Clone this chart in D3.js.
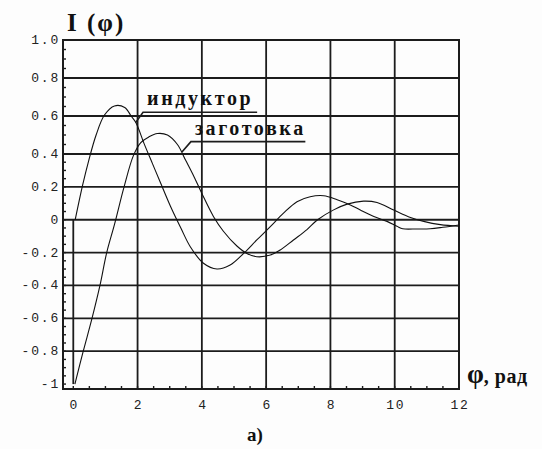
<!DOCTYPE html>
<html>
<head>
<meta charset="utf-8">
<script src="https://cdn.jsdelivr.net/npm/d3@7"></script>
<style>
  body { margin: 0; background: #fdfdfd; }
  svg { display: block; }
</style>
</head>
<body>
<div id="chart"></div>
<script>
// tick values and labels
const phiTicks = [0, 2, 4, 6, 8, 10, 12];
const iTicks = [1.0, 0.8, 0.6, 0.4, 0.2, 0, -0.2, -0.4, -0.6, -0.8, -1];
const iTickLabels = ["1.0", "0.8", "0.6", "0.4", "0.2", "0", "-0.2", "-0.4", "-0.6", "-0.8", "-1"];
const phiGrid = [2, 4, 6, 8, 10];
const iGrid = [0.8, 0.6, 0.4, 0.2, 0, -0.2, -0.4, -0.6, -0.8];

// curves: [phi, I]
const inductor = [
  [0.06, 0.0], [0.29, 0.21], [0.48, 0.36], [0.71, 0.50], [0.97, 0.605],
  [1.28, 0.653], [1.6, 0.645], [1.8, 0.60], [1.95, 0.565], [2.2, 0.456],
  [2.46, 0.343], [2.72, 0.222], [3.03, 0.079], [3.35, -0.052], [3.64, -0.164],
  [4.05, -0.265], [4.47, -0.30], [4.88, -0.276], [5.3, -0.205], [5.71, -0.123],
  [6.13, -0.042], [6.54, 0.04], [6.96, 0.11], [7.37, 0.14], [7.79, 0.146],
  [8.21, 0.122], [8.62, 0.09], [8.93, 0.059], [9.35, 0.02], [9.76, -0.01],
  [10.07, -0.04], [10.25, -0.055], [10.7, -0.056], [11.1, -0.055], [11.5, -0.046],
  [12.0, -0.032]
];
const workpiece = [
  [0.05, -1.0], [0.31, -0.80], [0.57, -0.61], [0.83, -0.40], [1.04, -0.20],
  [1.28, -0.03], [1.58, 0.20], [1.87, 0.39], [2.1, 0.46], [2.35, 0.49],
  [2.62, 0.508], [2.93, 0.50], [3.24, 0.45], [3.5, 0.36], [3.76, 0.26],
  [4.0, 0.16], [4.36, 0.02], [4.67, -0.07], [5.09, -0.16], [5.4, -0.205],
  [5.71, -0.225], [6.13, -0.215], [6.44, -0.184], [6.85, -0.123], [7.27, -0.06],
  [7.6, 0.0], [8.1, 0.06], [8.52, 0.095], [9.03, 0.113], [9.45, 0.105],
  [9.97, 0.059], [10.49, 0.014], [10.9, -0.01], [11.42, -0.03], [12.0, -0.04]
];

// curve labels: text, point on curve, start of underline, end of underline
const labels = [
  { text: "индуктор", anchor: [1.94, 0.565], from: [2.17, 0.62], to: [5.72, 0.62] },
  { text: "заготовка", anchor: [3.38, 0.41], from: [3.66, 0.465], to: [7.22, 0.465] }
];

const W = 542, H = 449;
const margin = { top: 40, right: 83, bottom: 60, left: 63 };
const width = W - margin.left - margin.right;
const height = H - margin.top - margin.bottom;
const ink = "#1c1c1c";

const svg = d3.select("#chart").append("svg")
  .attr("width", W)
  .attr("height", H);
const g = svg.append("g")
  .attr("transform", `translate(${margin.left},${margin.top})`);

const x = d3.scaleLinear().domain([-0.32, 12]).range([0, width]);
// the scanned plot is stretched above 0.4, so the scale has a bend there
const y = d3.scaleLinear().domain([-1.03, 0.4, 1]).range([height, 114, 0]);

// grid
g.selectAll(".hgrid").data(iGrid).enter().append("line")
  .attr("x1", 0).attr("x2", width)
  .attr("y1", d => y(d)).attr("y2", d => y(d))
  .attr("stroke", ink).attr("stroke-width", 1.8);
g.selectAll(".vgrid").data(phiGrid).enter().append("line")
  .attr("x1", d => x(d)).attr("x2", d => x(d))
  .attr("y1", 0).attr("y2", height)
  .attr("stroke", ink).attr("stroke-width", 1.8);
// short line at phi = 0 below the zero line
g.append("line")
  .attr("x1", x(0)).attr("x2", x(0))
  .attr("y1", y(0)).attr("y2", y(-1))
  .attr("stroke", ink).attr("stroke-width", 1.8);

// minor ticks, inside the frame
const yMinor = d3.range(-1, 1.001, 0.05).filter(v => v > -1.02);
g.selectAll(".ytick").data(yMinor).enter().append("line")
  .attr("x1", 0).attr("x2", 3)
  .attr("y1", d => y(d)).attr("y2", d => y(d))
  .attr("stroke", ink).attr("stroke-width", 1.4);
const xMinor = d3.range(0, 12.01, 0.5);
g.selectAll(".xtick").data(xMinor).enter().append("line")
  .attr("x1", d => x(d)).attr("x2", d => x(d))
  .attr("y1", height).attr("y2", height - 3)
  .attr("stroke", ink).attr("stroke-width", 1.4);

// frame
g.append("rect")
  .attr("x", 0).attr("y", 0)
  .attr("width", width).attr("height", height)
  .attr("fill", "none").attr("stroke", ink).attr("stroke-width", 2);

// tick labels
g.selectAll(".ylab").data(iTicks).enter().append("text")
  .attr("x", -3)
  .attr("y", d => y(d) + 4)
  .attr("text-anchor", "end")
  .style("font-family", "Liberation Mono")
  .style("font-size", "13px")
  .style("letter-spacing", "1.8px")
  .attr("fill", "#222")
  .text((d, i) => iTickLabels[i]);
g.selectAll(".xlab").data(phiTicks).enter().append("text")
  .attr("x", d => x(d) + 1)
  .attr("y", height + 20)
  .attr("text-anchor", "middle")
  .style("font-family", "Liberation Mono")
  .style("font-size", "13px")
  .style("letter-spacing", "1.6px")
  .attr("fill", "#222")
  .text(d => d);

// curves
const line = d3.line()
  .x(d => x(d[0]))
  .y(d => y(d[1]))
  .curve(d3.curveCatmullRom);
[inductor, workpiece].forEach(data => {
  g.append("path")
    .datum(data)
    .attr("fill", "none")
    .attr("stroke", "#111")
    .attr("stroke-width", 1.1)
    .attr("d", line);
});

// curve labels with underline leaders
labels.forEach(l => {
  g.append("path")
    .attr("fill", "none")
    .attr("stroke", ink)
    .attr("stroke-width", 1.6)
    .attr("d", d3.line()([
      [x(l.anchor[0]), y(l.anchor[1])],
      [x(l.from[0]), y(l.from[1])],
      [x(l.to[0]), y(l.to[1])]
    ]));
  g.append("text")
    .attr("x", x(l.from[0]) + 4)
    .attr("y", y(l.from[1]) - 7)
    .style("font-family", "Liberation Serif")
    .style("font-weight", "bold")
    .style("font-size", "20px")
    .style("letter-spacing", "2.6px")
    .attr("fill", "#111")
    .text(l.text);
});

// axis titles
svg.append("text")
  .attr("x", 67).attr("y", 31)
  .style("font-family", "Liberation Serif")
  .style("font-weight", "bold")
  .style("font-size", "25px")
  .style("letter-spacing", "2px")
  .attr("fill", "#111")
  .text("I (φ)");

const xt = svg.append("text")
  .attr("x", 467).attr("y", 383)
  .style("font-family", "Liberation Serif")
  .style("font-weight", "bold")
  .attr("fill", "#111");
xt.append("tspan").style("font-size", "27px").text("φ");
xt.append("tspan").style("font-size", "20px").style("letter-spacing", "0.5px").text(", рад");

svg.append("text")
  .attr("x", 247).attr("y", 441)
  .style("font-family", "Liberation Serif")
  .style("font-weight", "bold")
  .style("font-size", "19px")
  .attr("fill", "#111")
  .text("а)");
</script>
</body>
</html>
